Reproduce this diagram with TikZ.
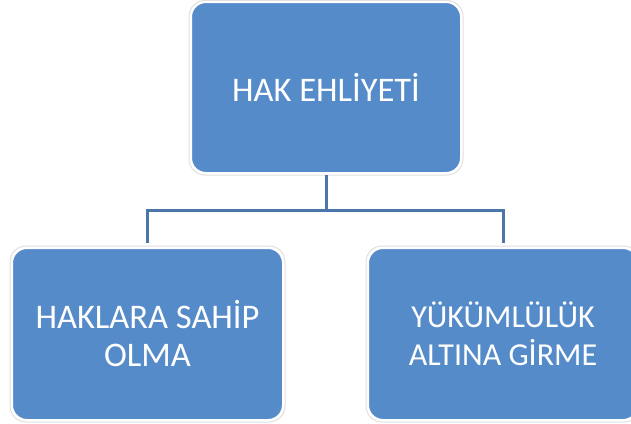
\documentclass[tikz,border=0pt]{standalone}
\usepackage{fontspec}
\setmainfont{Carlito}

\definecolor{boxblue}{HTML}{568BCA}
\definecolor{lineblue}{HTML}{4A76AA}

\tikzset{
  hakbox/.style={rectangle, rounded corners=15pt, fill=boxblue, draw=white,
    line width=2pt, text=white, font=\fontsize{34.5}{38}\selectfont,
    align=center, inner sep=0pt},
  hakline/.style={line width=3pt, lineblue}
}

\begin{document}
\begin{tikzpicture}[x=1pt,y=-1pt]
\useasboundingbox[fill=white] (0,0) rectangle (631,423);

\draw[black!12, line width=1pt, rounded corners=16pt] (189,0.5) rectangle (463,175);
\draw[black!12, line width=1pt, rounded corners=16pt] (10,246) rectangle (285,422);
\draw[black!12, line width=1pt, rounded corners=16pt] (366,246) rectangle (640,422);

\node[hakbox, minimum width=270pt, minimum height=171pt] at (326,87.5) (hak) {HAK EHLİYETİ};
\node[hakbox, minimum width=271pt, minimum height=172pt] at (147.5,334) (sahip) {HAKLARA SAHİP\\OLMA};
\node[hakbox, minimum width=270pt, minimum height=172pt, font=\fontsize{32}{38}\selectfont] at (503,334) (yukum) {YÜKÜMLÜLÜK\\ALTINA GİRME};

\coordinate (mid) at (326,210.5);
\draw[hakline] ([yshift=-1pt]hak.south) -- (mid);
\draw[hakline] ([yshift=4pt]sahip.north) |- (mid) -| ([yshift=4pt]yukum.north);

\end{tikzpicture}
\end{document}
